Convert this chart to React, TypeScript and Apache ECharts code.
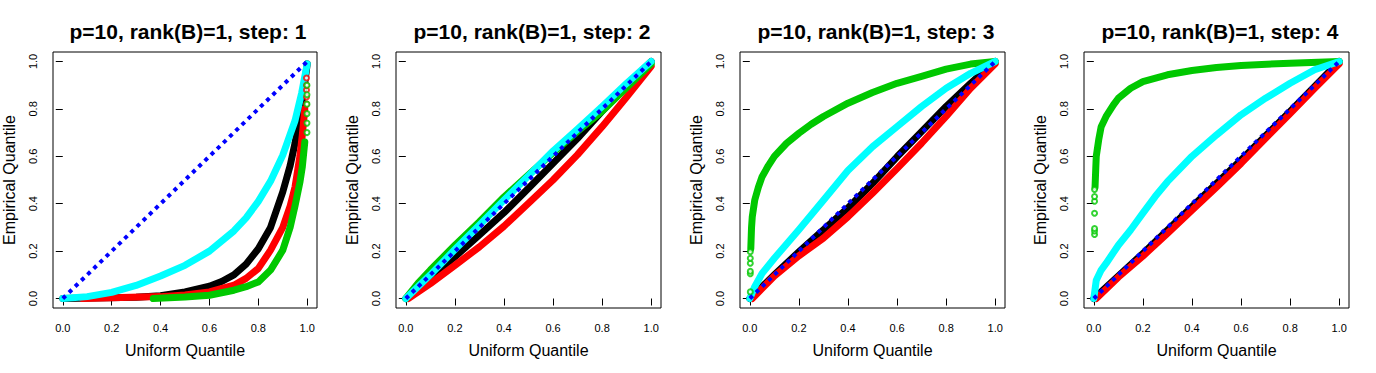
import React, { useEffect, useRef } from "react";
import * as echarts from "echarts";

// ---- data ----
const TITLES = [
  "p=10, rank(B)=1, step: 1",
  "p=10, rank(B)=1, step: 2",
  "p=10, rank(B)=1, step: 3",
  "p=10, rank(B)=1, step: 4",
];
const TICKS = [0, 0.2, 0.4, 0.6, 0.8, 1.0];
const DIAG = [[0, 0], [1, 1]];

// step 1
const s1Black = [[0, 0], [0.3, 0.005], [0.4, 0.012], [0.5, 0.028], [0.6, 0.052], [0.65, 0.072], [0.7, 0.1], [0.75, 0.145], [0.8, 0.21], [0.85, 0.3], [0.9, 0.45], [0.93, 0.56], [0.95, 0.655], [0.97, 0.77], [0.98, 0.84], [0.99, 0.91], [1.0, 0.99]];
const s1Red = [[0.08, 0], [0.4, 0.008], [0.5, 0.015], [0.6, 0.028], [0.7, 0.056], [0.75, 0.085], [0.8, 0.127], [0.85, 0.204], [0.9, 0.3], [0.93, 0.39], [0.95, 0.47], [0.97, 0.6], [0.98, 0.69], [0.99, 0.8]];
const s1Green = [[0.37, 0], [0.5, 0.006], [0.6, 0.014], [0.7, 0.035], [0.75, 0.05], [0.8, 0.07], [0.85, 0.12], [0.9, 0.204], [0.93, 0.3], [0.95, 0.39], [0.97, 0.49], [0.98, 0.556], [0.99, 0.66]];
const s1Cyan = [[0, 0], [0.1, 0.008], [0.2, 0.026], [0.3, 0.055], [0.4, 0.095], [0.5, 0.14], [0.6, 0.2], [0.7, 0.285], [0.75, 0.34], [0.8, 0.41], [0.85, 0.495], [0.9, 0.605], [0.95, 0.75], [0.977, 0.866], [1.0, 0.99]];
const s1RedPts = [[0.997, 0.82], [0.997, 0.85], [0.997, 0.88], [0.997, 0.9], [0.997, 0.93]];
const s1GreenPts = [[0.999, 0.7], [0.999, 0.74], [0.999, 0.78], [0.999, 0.82], [0.999, 0.86], [0.999, 0.9]];

// step 2
const s2Black = [[0, 0], [0.1, 0.09], [0.2, 0.176], [0.3, 0.268], [0.4, 0.362], [0.5, 0.465], [0.6, 0.57], [0.7, 0.676], [0.8, 0.79], [0.9, 0.9], [1.0, 1.0]];
const s2Red = [[0.01, 0], [0.1, 0.063], [0.2, 0.14], [0.3, 0.218], [0.4, 0.305], [0.5, 0.402], [0.6, 0.5], [0.7, 0.607], [0.8, 0.725], [0.9, 0.85], [1.0, 0.98]];
const s2Green = [[0, 0], [0.05, 0.065], [0.1, 0.12], [0.2, 0.225], [0.3, 0.324], [0.4, 0.428], [0.5, 0.522], [0.6, 0.615], [0.7, 0.705], [0.8, 0.79], [0.9, 0.89], [1.0, 0.99]];
const s2Cyan = [[0, 0], [0.1, 0.1], [0.2, 0.207], [0.3, 0.31], [0.4, 0.415], [0.5, 0.518], [0.6, 0.622], [0.7, 0.715], [0.8, 0.81], [0.9, 0.908], [1.0, 1.0]];

// step 3
const s3Black = [[0, 0], [0.1, 0.1], [0.2, 0.197], [0.3, 0.29], [0.4, 0.382], [0.5, 0.486], [0.6, 0.598], [0.7, 0.704], [0.8, 0.81], [0.9, 0.908], [1.0, 1.0]];
const s3Red = [[0.01, 0], [0.1, 0.095], [0.2, 0.18], [0.3, 0.255], [0.4, 0.345], [0.5, 0.444], [0.6, 0.548], [0.7, 0.655], [0.8, 0.768], [0.9, 0.887], [1.0, 0.99]];
const s3Green = [[0.004, 0.21], [0.007, 0.3], [0.01, 0.345], [0.02, 0.415], [0.035, 0.47], [0.05, 0.514], [0.075, 0.56], [0.1, 0.6], [0.15, 0.655], [0.2, 0.697], [0.25, 0.735], [0.3, 0.768], [0.4, 0.824], [0.5, 0.869], [0.6, 0.908], [0.7, 0.937], [0.8, 0.968], [0.9, 0.989], [1.0, 1.0]];
const s3Cyan = [[0, 0], [0.02, 0.05], [0.05, 0.106], [0.1, 0.17], [0.2, 0.29], [0.3, 0.415], [0.4, 0.54], [0.5, 0.64], [0.6, 0.725], [0.7, 0.81], [0.8, 0.887], [0.9, 0.95], [1.0, 1.0]];
const s3GreenPts = [[0.002, 0.028], [0.002, 0.105], [0.002, 0.115], [0.002, 0.149], [0.002, 0.17], [0.002, 0.197]];

// step 4
const s4Black = [[0, 0], [0.2, 0.19], [0.4, 0.387], [0.6, 0.584], [0.8, 0.789], [1.0, 1.0]];
const s4Red = [[0.01, 0], [0.1, 0.09], [0.2, 0.179], [0.3, 0.275], [0.4, 0.373], [0.5, 0.47], [0.6, 0.57], [0.7, 0.676], [0.8, 0.78], [0.9, 0.887], [1.0, 0.99]];
const s4Green = [[0.005, 0.47], [0.008, 0.55], [0.01, 0.6], [0.02, 0.67], [0.03, 0.725], [0.05, 0.768], [0.08, 0.817], [0.1, 0.845], [0.15, 0.887], [0.2, 0.915], [0.3, 0.944], [0.4, 0.962], [0.5, 0.975], [0.6, 0.983], [0.8, 0.993], [1.0, 1.0]];
const s4Cyan = [[0, 0], [0.01, 0.077], [0.03, 0.12], [0.05, 0.148], [0.1, 0.225], [0.15, 0.289], [0.2, 0.36], [0.25, 0.43], [0.3, 0.493], [0.4, 0.6], [0.5, 0.69], [0.6, 0.775], [0.7, 0.845], [0.8, 0.908], [0.9, 0.965], [1.0, 1.0]];
const s4GreenPts = [[0.003, 0.27], [0.003, 0.285], [0.003, 0.295], [0.003, 0.36], [0.003, 0.41], [0.003, 0.43], [0.003, 0.46]];

const PANELS = [
  { black: s1Black, red: s1Red, green: s1Green, cyan: s1Cyan, redPts: s1RedPts, greenPts: s1GreenPts },
  { black: s2Black, red: s2Red, green: s2Green, cyan: s2Cyan, redPts: [], greenPts: [] },
  { black: s3Black, red: s3Red, green: s3Green, cyan: s3Cyan, redPts: [], greenPts: s3GreenPts },
  { black: s4Black, red: s4Red, green: s4Green, cyan: s4Cyan, redPts: [], greenPts: s4GreenPts },
];

const COLORS = { black: "#000000", red: "#FF0000", green: "#00C800", cyan: "#00FFFF", blue: "#0000FF" };
const FONT = "Liberation Sans, Arial, sans-serif";

export default function App() {
  const ref = useRef<HTMLDivElement>(null);
  useEffect(() => {
    document.body.style.margin = "0";
    const chart = echarts.init(ref.current!, null, { renderer: "svg" });
    const grids: any[] = [];
    const xAxes: any[] = [];
    const yAxes: any[] = [];
    const titles: any[] = [];
    const series: any[] = [];
    PANELS.forEach((p, k) => {
      const left = 52 + 344 * k;
      grids.push({ left, top: 52, width: 265, height: 256, show: true, borderColor: "#000", borderWidth: 1, backgroundColor: "transparent" });
      titles.push({
        text: TITLES[k], left: left + 131, top: 16, textAlign: "center",
        textStyle: { fontFamily: FONT, fontSize: 21, fontWeight: "bold", color: "#000" },
      });
      const common = {
        type: "value", min: -0.04, max: 1.04, gridIndex: k,
        splitLine: { show: false },
        axisLine: { show: false },
        axisTick: { show: true, inside: false, length: 7, customValues: TICKS, lineStyle: { color: "#000", width: 1 } },
        nameLocation: "middle",
        nameTextStyle: { fontFamily: FONT, fontSize: 16, color: "#000" },
      };
      xAxes.push({
        ...common,
        name: "Uniform Quantile", nameGap: 34,
        axisLabel: { customValues: TICKS, formatter: (v: number) => v.toFixed(1), fontFamily: FONT, fontSize: 11, color: "#000", margin: 14 },
      });
      yAxes.push({
        ...common,
        name: "Empirical Quantile", nameGap: 36,
        axisLabel: { customValues: TICKS, rotate: 90, formatter: (v: number) => v.toFixed(1), fontFamily: FONT, fontSize: 11, color: "#000", margin: 15 },
      });
      const line = (data: number[][], color: string) => ({
        type: "line", xAxisIndex: k, yAxisIndex: k, data, showSymbol: false, smooth: false,
        lineStyle: { color, width: 7, cap: "round", join: "round" }, silent: true, z: 2,
      });
      series.push(line(p.black, COLORS.black));
      series.push(line(p.red, COLORS.red));
      series.push(line(p.green, COLORS.green));
      series.push(line(p.cyan, COLORS.cyan));
      if (p.redPts.length) series.push({ type: "scatter", xAxisIndex: k, yAxisIndex: k, data: p.redPts, symbol: "emptyCircle", symbolSize: 5, itemStyle: { color: COLORS.red, borderColor: COLORS.red, borderWidth: 1 }, z: 2 });
      if (p.greenPts.length) series.push({ type: "scatter", xAxisIndex: k, yAxisIndex: k, data: p.greenPts, symbol: "emptyCircle", symbolSize: 5, itemStyle: { color: COLORS.green, borderColor: COLORS.green, borderWidth: 1 }, z: 2 });
      series.push({
        type: "line", xAxisIndex: k, yAxisIndex: k, data: DIAG, showSymbol: false,
        lineStyle: { color: COLORS.blue, width: 4, type: [4, 4.6], cap: "butt" }, silent: true, z: 3,
      });
    });
    chart.setOption({ animation: false, title: titles, grid: grids, xAxis: xAxes, yAxis: yAxes, series });
    return () => chart.dispose();
  }, []);
  return <div ref={ref} style={{ position: "absolute", left: 0, top: 0, width: 1376, height: 373 }} />;
}
